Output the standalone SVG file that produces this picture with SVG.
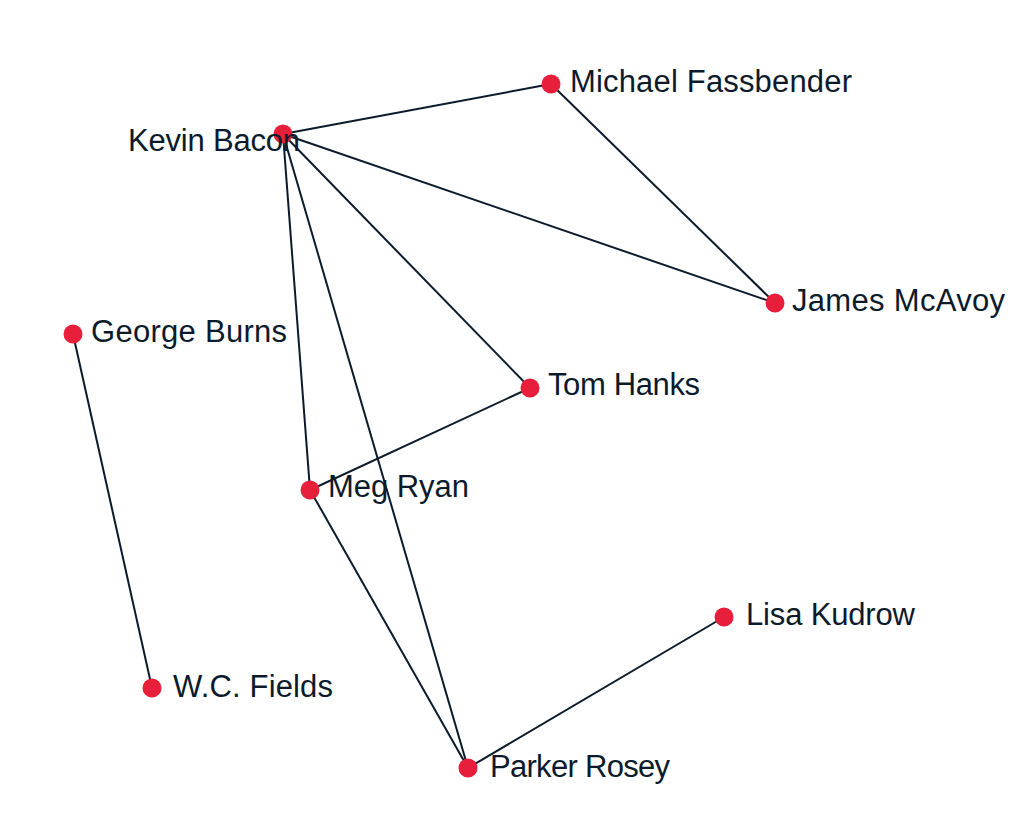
<svg xmlns="http://www.w3.org/2000/svg" width="1032" height="838" viewBox="0 0 1032 838">
<style>
.link{stroke:#0c1b2b;stroke-width:2;fill:none}
.node circle{fill:#e81f3a}
.node text{font-family:"Liberation Sans",Arial,sans-serif;font-size:31px;fill:#0c1b2b}
</style>
<rect width="1032" height="838" fill="#fff"/>
<g id="connectors">
<line class="link" x1="283" y1="134" x2="551" y2="84"/>
<line class="link" x1="551" y1="84" x2="775" y2="303"/>
<line class="link" x1="283" y1="134" x2="775" y2="303"/>
<line class="link" x1="283" y1="134" x2="530" y2="388"/>
<line class="link" x1="283" y1="134" x2="310" y2="490"/>
<line class="link" x1="283" y1="134" x2="468" y2="768"/>
<line class="link" x1="530" y1="388" x2="310" y2="490"/>
<line class="link" x1="310" y1="490" x2="468" y2="768"/>
<line class="link" x1="724" y1="617" x2="468" y2="768"/>
<line class="link" x1="73" y1="334" x2="152" y2="688"/>
</g>
<g id="kevin-bacon" class="node"><circle cx="283" cy="134" r="9.5"/><text x="128" y="151" textLength="172" lengthAdjust="spacing">Kevin Bacon</text></g>
<g id="michael-fassbender" class="node"><circle cx="551" cy="84" r="9.5"/><text x="570" y="92" textLength="282" lengthAdjust="spacing">Michael Fassbender</text></g>
<g id="james-mcavoy" class="node"><circle cx="775" cy="303" r="9.5"/><text x="792" y="311" textLength="213" lengthAdjust="spacing">James McAvoy</text></g>
<g id="george-burns" class="node"><circle cx="73" cy="334" r="9.5"/><text x="91" y="342" textLength="196" lengthAdjust="spacing">George Burns</text></g>
<g id="tom-hanks" class="node"><circle cx="530" cy="388" r="9.5"/><text x="548" y="395" textLength="152" lengthAdjust="spacing">Tom Hanks</text></g>
<g id="meg-ryan" class="node"><circle cx="310" cy="490" r="9.5"/><text x="328" y="497" textLength="141" lengthAdjust="spacing">Meg Ryan</text></g>
<g id="lisa-kudrow" class="node"><circle cx="724" cy="617" r="9.5"/><text x="746" y="625" textLength="169" lengthAdjust="spacing">Lisa Kudrow</text></g>
<g id="wc-fields" class="node"><circle cx="152" cy="688" r="9.5"/><text x="173" y="697" textLength="160" lengthAdjust="spacing">W.C. Fields</text></g>
<g id="parker-rosey" class="node"><circle cx="468" cy="768" r="9.5"/><text x="490" y="777" textLength="180" lengthAdjust="spacing">Parker Rosey</text></g>
</svg>
